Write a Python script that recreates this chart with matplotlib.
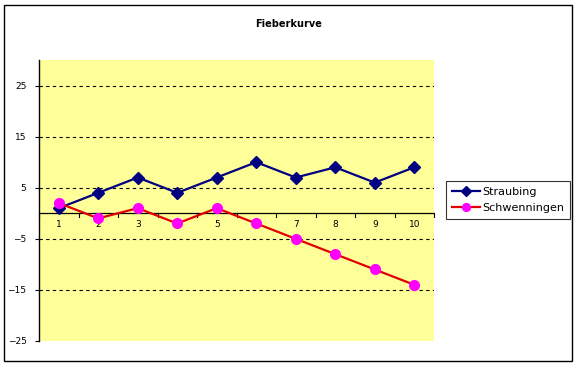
import matplotlib.pyplot as plt
from matplotlib.patches import Rectangle

kategorien = [1, 2, 3, 4, 5, 6, 7, 8, 9, 10]
straubing = [1, 4, 7, 4, 7, 10, 7, 9, 6, 9]
schwenningen = [2, -1, 1, -2, 1, -2, -5, -8, -11, -14]
y_ticks = [-25, -15, -5, 5, 15, 25]

fig = plt.figure(figsize=(5.78, 3.66), dpi=100)
fig.patch.set_facecolor('white')
fig.patches.append(Rectangle((4/578, 5/366), 568/578, 356/366, transform=fig.transFigure,
                             fill=False, edgecolor='black', linewidth=1))

ax = fig.add_axes([39/578, 25/366, 395/578, 281/366])
ax.set_facecolor('#FFFF99')
ax.set_xlim(0.5, 10.5)
ax.set_ylim(-25, 30)

for y in y_ticks[1:]:
    ax.axhline(y, color='black', linestyle=(0, (3, 3)), linewidth=0.8, zorder=1)
ax.axhline(0, color='black', linewidth=0.9, zorder=2)
# kleine Striche an der Nulllinie zwischen den Kategorien
for k in kategorien + [0]:
    ax.plot([k + 0.5, k + 0.5], [0, -0.8], color='black', linewidth=0.8, zorder=2, clip_on=False)
for k in kategorien:
    ax.annotate(str(k), xy=(k, 0), xytext=(0, -5), textcoords='offset points',
                ha='center', va='top', fontsize=6.5)

ax.plot(kategorien, straubing, color='#000080', marker='D', markersize=6.5, linewidth=1.6,
        label='Straubing', zorder=3)
ax.plot(kategorien, schwenningen, color='#E00000', marker='o', markersize=7, linewidth=1.6,
        markerfacecolor='#FF00FF', markeredgecolor='#FF00FF', label='Schwenningen', zorder=3)

for s in ['top', 'right', 'bottom']:
    ax.spines[s].set_visible(False)
ax.spines['left'].set_linewidth(1)
ax.set_xticks([])
ax.set_yticks(y_ticks)
ax.tick_params(axis='y', labelsize=6.5, length=3, direction='out', pad=6)

fig.text(0.5, 1 - 24/366, 'Fieberkurve', ha='center', va='center', fontsize=7, fontweight='bold')

leg = ax.legend(loc='center left', bbox_to_anchor=(446/578, 1 - 200/366), bbox_transform=fig.transFigure,
                fontsize=8, frameon=True, fancybox=False, edgecolor='black', borderpad=0.5,
                handlelength=2.6, handletextpad=0.2, labelspacing=0.6, borderaxespad=0,
                markerscale=0.8)
leg.get_frame().set_linewidth(0.8)

fig.savefig('out.png', dpi=100)
